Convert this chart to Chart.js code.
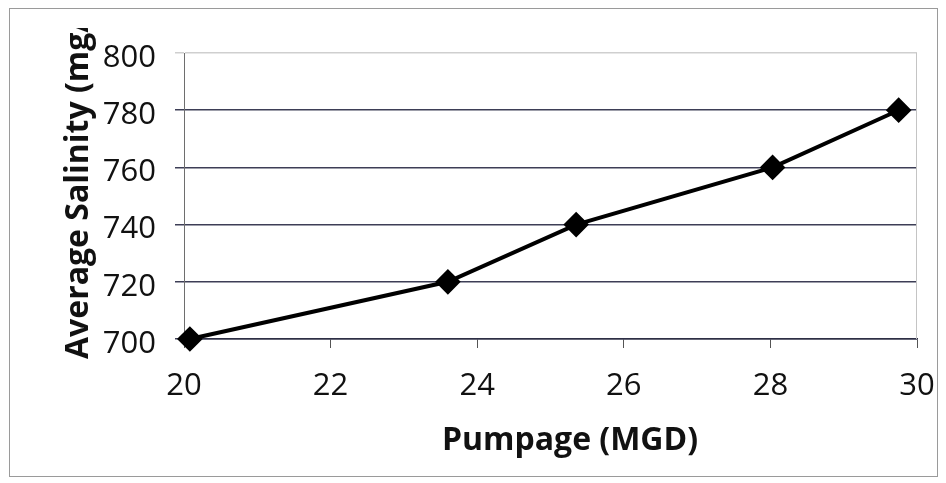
<!DOCTYPE html>
<html>
<head>
<meta charset="utf-8">
<script src="https://cdn.jsdelivr.net/npm/chart.js@4.4.1/dist/chart.umd.min.js"></script>
<style>
  body { margin: 0; background: #fff; }
  #wrap { width: 946px; height: 483px; }
</style>
</head>
<body>
<div id="wrap"><canvas id="chart" width="946" height="483"></canvas></div>
<script>
/* -------------------- DATA -------------------- */
const pumpage = [20.08, 23.6, 25.35, 28.03, 29.75];   // MGD
const salinity = [700, 720, 740, 760, 780];           // mg/L

const xMin = 20, xMax = 30, xStep = 2;
const yMin = 700, yMax = 800, yStep = 20;

const xTitle = "Pumpage (MGD)";
const yTitle = "Average Salinity (mg/L)";

const points = pumpage.map((x, i) => ({ x: x, y: salinity[i] }));

/* -------------------- EXTRAS: frame + titles -------------------- */
const extras = {
    id: "extras",
    beforeDraw(chart) {
        const ctx = chart.ctx;
        ctx.save();
        ctx.fillStyle = "#fff";
        ctx.fillRect(0, 0, chart.width, chart.height);
        ctx.strokeStyle = "#9a9a9a";
        ctx.lineWidth = 1;
        ctx.strokeRect(9.5, 8.5, 928, 468);
        ctx.restore();
    },
    beforeDatasetsDraw(chart) {
        const ctx = chart.ctx;
        const a = chart.chartArea;

        // faint plot-area border on the right
        ctx.save();
        ctx.strokeStyle = "#c4c4c4";
        ctx.lineWidth = 1;
        ctx.beginPath();
        ctx.moveTo(a.right - 0.5, a.top);
        ctx.lineTo(a.right - 0.5, a.bottom);
        ctx.stroke();
        ctx.restore();
    },
    afterDraw(chart) {
        const ctx = chart.ctx;
        ctx.save();
        ctx.fillStyle = "#111";
        ctx.font = "bold 32px 'Open Sans'";

        // x title
        ctx.textAlign = "center";
        ctx.textBaseline = "alphabetic";
        ctx.fillText(xTitle, 570, 450);

        // y title, clipped at the top like the original
        ctx.beginPath();
        ctx.rect(0, 28, chart.width, chart.height - 28);
        ctx.clip();
        ctx.translate(88, 359);
        ctx.rotate(-Math.PI / 2);
        ctx.textAlign = "left";
        ctx.fillText(yTitle, 0, 0);
        ctx.restore();
    }
};

/* -------------------- CHART -------------------- */
new Chart(document.getElementById("chart"), {
    type: "line",
    data: {
        datasets: [{
            data: points,
            borderColor: "#000",
            backgroundColor: "#000",
            borderWidth: 4,
            tension: 0,
            clip: false,
            pointStyle: "rectRot",
            pointRadius: 10,
            pointHoverRadius: 10
        }]
    },
    options: {
        responsive: false,
        animation: false,
        devicePixelRatio: 1,
        layout: { padding: { top: 53, right: 0, bottom: 0, left: 0 } },
        plugins: {
            legend: { display: false },
            tooltip: { enabled: false }
        },
        scales: {
            x: {
                type: "linear",
                min: xMin,
                max: xMax,
                afterFit(scale) {
                    scale.height = 144;
                    scale.paddingRight = 29;   // plot area ends at x = 917
                },
                ticks: {
                    stepSize: xStep,
                    color: "#111",
                    font: { family: "'Open Sans'", size: 31 },
                    padding: 20,
                    maxRotation: 0
                },
                grid: {
                    drawOnChartArea: false,
                    tickLength: 9,
                    color: "#555"
                },
                border: { color: "#2e2f45", width: 1.5 }
            },
            y: {
                min: yMin,
                max: yMax,
                afterFit(scale) { scale.width = 184; },
                ticks: {
                    stepSize: yStep,
                    color: "#111",
                    font: { family: "'Open Sans'", size: 31 },
                    padding: 19,
                    labelOffset: 5
                },
                grid: {
                    tickLength: 9,
                    lineWidth: 1.5,
                    color: (c) => c.tick && c.tick.value === yMax ? "#cfcfcf" : "#3d3e56"
                },
                border: { color: "#6e6e6e", width: 1 }
            }
        }
    },
    plugins: [extras]
});
</script>
</body>
</html>
